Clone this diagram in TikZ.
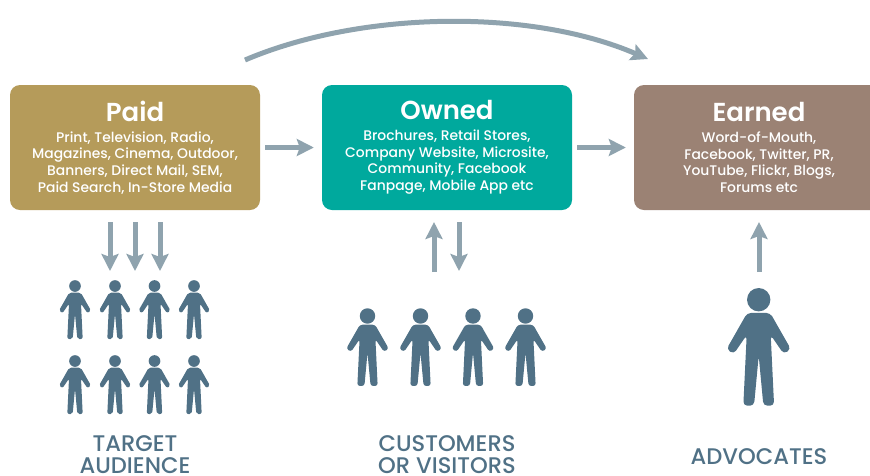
\documentclass[tikz,border=0pt]{standalone}
\usepackage{fontspec}
\setmainfont{Poppins}[UprightFont=* Medium, BoldFont=* SemiBold]
\usetikzlibrary{
  calc
  , arrows.meta
}
\definecolor{paidcol}{HTML}{B59B5A}
\definecolor{ownedcol}{HTML}{00A99D}
\definecolor{earnedcol}{HTML}{9B8274}
\definecolor{flowcol}{HTML}{8FA3AE}
\definecolor{figurecol}{HTML}{507186}
\newcommand{\boxtitle}[1]{{\fontsize{26}{29}\selectfont\bfseries #1}\\[4pt]}
\tikzset{
  channel/.style={rectangle, rounded corners=10pt, minimum width=250pt, minimum height=125pt,
    inner sep=0pt, text=white, align=center, font=\fontsize{13.9}{16.7}\selectfont},
  flow/.style={-{Stealth[length=17pt,width=17pt,inset=3pt]}, line width=5pt, flowcol},
  caption/.style={anchor=south, text=figurecol, align=center, inner sep=0pt, text depth=0pt,
    font=\fontsize{22.6}{22}\selectfont},
  person/.pic={
    \begin{scope}[scale=#1]
      \fill[figurecol] (0,0) circle (11.7);
      \fill[figurecol, rounded corners=#1*4pt] (-11.5,13.2) -- (11.5,13.2) -- (32.2,49.5) -- (25,54.3) -- (12,35.3)
        -- (15.4,106) -- (4.7,106) -- (0,56) -- (-4.7,106) -- (-15.4,106)
        -- (-12,35.3) -- (-25,54.3) -- (-32.2,49.5) -- cycle;
    \end{scope}
  },
}
\begin{document}
\begin{tikzpicture}[x=1pt,y=-1pt]
  \useasboundingbox (0,0) rectangle (870,475);
  \clip (0,0) rectangle (870,475);

  \node[channel, fill=paidcol] (paid) at (135,147.5)
    {\boxtitle{Paid}Print, Television, Radio,\\Magazines, Cinema, Outdoor,\\Banners, Direct Mail, SEM,\\Paid Search, In-Store Media};
  \node[channel, fill=ownedcol] (owned) at (447,147.5)
    {\boxtitle{Owned}Brochures, Retail Stores,\\Company Website, Microsite,\\Community, Facebook\\Fanpage, Mobile App etc};
  \node[channel, fill=earnedcol] (earned) at (759,147.5)
    {\boxtitle{Earned}Word-of-Mouth,\\Facebook, Twitter, PR,\\YouTube, Flickr, Blogs,\\Forums etc};

  \draw[flow, shorten <=5pt, shorten >=8pt] (paid) -- (owned);
  \draw[flow, shorten <=5pt, shorten >=8pt] (owned) -- (earned);

  % top curve
  \coordinate (curvefrom) at (245,60);
  \coordinate (curveto) at (648,59);
  \draw[flow] (curvefrom) .. controls (360,11) and (530,8) .. (curveto);

  % arrows under the boxes
  \foreach \x/\n in {110/a,135/b,160/c}{
    \coordinate (paid\n) at (\x,222);
    \coordinate (target\n) at (\x,271);
    \draw[flow] (paid\n) -- (target\n);
  }
  \coordinate (ownedin) at (434,272);
  \coordinate (ownedtop) at (434,222);
  \coordinate (ownedout) at (459,222);
  \coordinate (ownedbot) at (459,271);
  \draw[flow] (ownedin) -- (ownedtop);
  \draw[flow] (ownedout) -- (ownedbot);
  \coordinate (earnedin) at (759,272);
  \coordinate (earnedtop) at (759,222);
  \draw[flow] (earnedin) -- (earnedtop);

  % people
  \foreach \x in {75,115,154.5,194}{
    \foreach \y in {286,361}{
      \pic at (\x,\y) {person=.5};
    }
  }
  \foreach \x in {367.5,420.5,473,525.5}{
    \pic at (\x,316) {person=.66};
  }
  \pic at (758.7,299.7) {person=1};

  \node[caption] (targetlabel) at (135,473.5) {TARGET\\AUDIENCE};
  \node[caption] (customerlabel) at (447,473.5) {CUSTOMERS\\OR VISITORS};
  \node[caption] (advocatelabel) at (759,464.3) {ADVOCATES};
\end{tikzpicture}
\end{document}
